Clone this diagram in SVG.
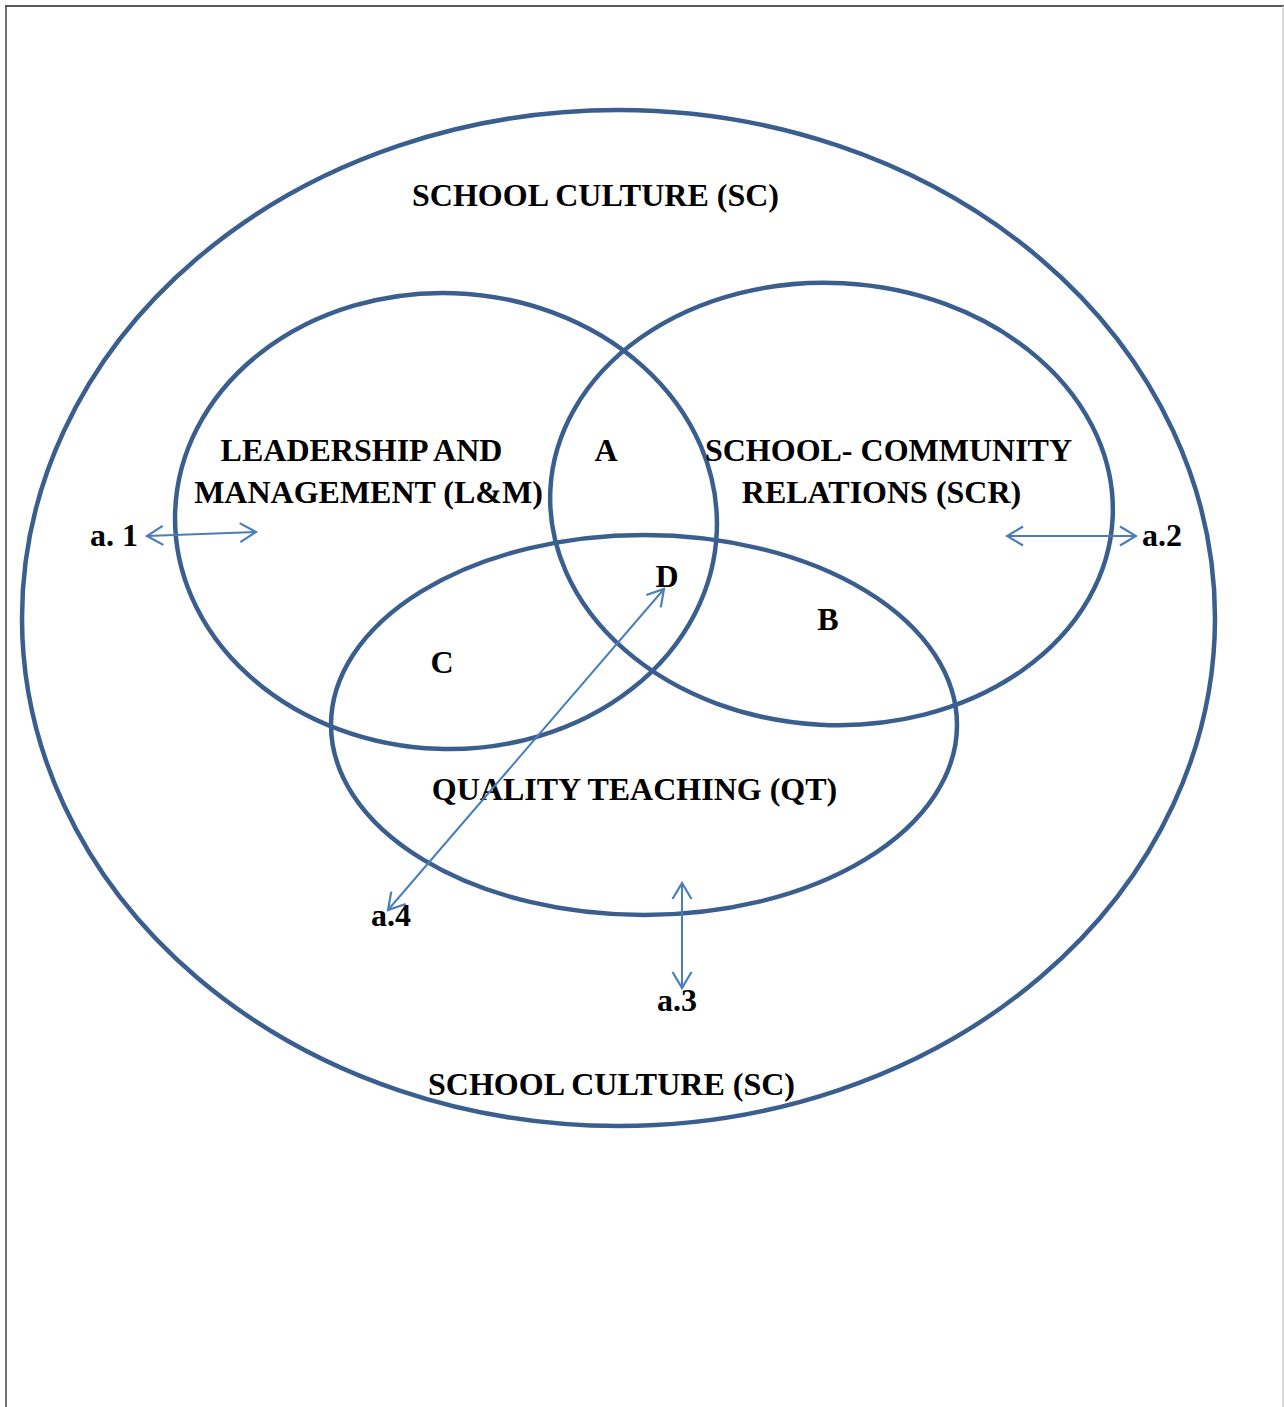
<svg xmlns="http://www.w3.org/2000/svg" width="1284" height="1407" viewBox="0 0 1284 1407">
<style>
.ring{fill:none;stroke:#3a5f8f;stroke-width:4.5}
.lbl{font-family:"Liberation Serif","Times New Roman",serif;font-weight:bold;font-size:32px;fill:#000}
.con{stroke:#4a7ebb;stroke-width:2;fill:none}
</style>
<defs>
<marker id="ah" viewBox="0 0 20 22" refX="18" refY="11" markerWidth="20" markerHeight="22" markerUnits="userSpaceOnUse" orient="auto-start-reverse">
<path d="M2,1.5 L18,11 L2,20.5" fill="none" stroke="#4a7ebb" stroke-width="2.2"/>
</marker>
</defs>
<rect width="1284" height="1407" fill="#fff"/>
<g id="frame">
<line x1="5" y1="6" x2="1284" y2="6" stroke="#222" stroke-width="1.5"/>
<line x1="6" y1="6" x2="6" y2="1407" stroke="#444" stroke-width="1.5"/>
<line x1="1283" y1="6" x2="1283" y2="1407" stroke="#ccc" stroke-width="1.5"/>
</g>
<g id="sc">
<ellipse class="ring" cx="618.5" cy="618" rx="596.5" ry="508"/>
<text class="lbl" x="595.5" y="206" text-anchor="middle">SCHOOL CULTURE (SC)</text>
<text class="lbl" x="611.5" y="1095" text-anchor="middle">SCHOOL CULTURE (SC)</text>
</g>
<g id="lm">
<ellipse class="ring" cx="446" cy="521" rx="271" ry="228" transform="rotate(2 446 521)"/>
<text class="lbl" x="361.5" y="461" text-anchor="middle">LEADERSHIP AND</text>
<text class="lbl" x="368.5" y="503" text-anchor="middle">MANAGEMENT (L&amp;M)</text>
</g>
<g id="scr">
<ellipse class="ring" cx="831.5" cy="504" rx="281.5" ry="221" transform="rotate(3 831.5 504)"/>
<text class="lbl" x="888.5" y="461" text-anchor="middle">SCHOOL- COMMUNITY</text>
<text class="lbl" x="881.5" y="503" text-anchor="middle">RELATIONS (SCR)</text>
</g>
<g id="qt">
<ellipse class="ring" cx="644" cy="725" rx="313" ry="190"/>
<text class="lbl" x="634.5" y="800" text-anchor="middle">QUALITY TEACHING (QT)</text>
</g>
<g id="regions">
<text class="lbl" x="606" y="461" text-anchor="middle">A</text>
<text class="lbl" x="828" y="630" text-anchor="middle">B</text>
<text class="lbl" x="442" y="673" text-anchor="middle">C</text>
<text class="lbl" x="667" y="587" text-anchor="middle">D</text>
</g>
<g id="connectors">
<line class="con" x1="147" y1="536" x2="256" y2="532" marker-start="url(#ah)" marker-end="url(#ah)"/>
<line class="con" x1="1007" y1="536" x2="1136" y2="536" marker-start="url(#ah)" marker-end="url(#ah)"/>
<line class="con" x1="682" y1="883" x2="682" y2="988" marker-start="url(#ah)" marker-end="url(#ah)"/>
<line class="con" x1="664" y1="589" x2="388" y2="910" marker-start="url(#ah)" marker-end="url(#ah)"/>
</g>
<g id="arrow-labels">
<text class="lbl" x="90" y="546">a. 1</text>
<text class="lbl" x="1142" y="546">a.2</text>
<text class="lbl" x="657" y="1011">a.3</text>
<text class="lbl" x="371" y="926">a.4</text>
</g>
</svg>
